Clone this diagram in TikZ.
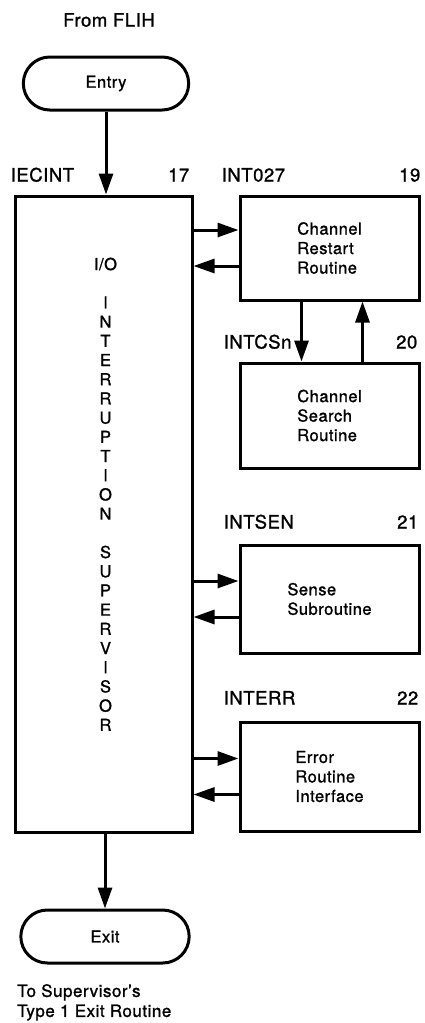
\documentclass[tikz,border=0pt]{standalone}
\usepackage{fontspec}
\setmainfont{TeX Gyre Heros}[LetterSpace=3,FakeBold=1.2]
\usepackage{tikz}
\usetikzlibrary{
arrows.meta,
positioning,
shapes.misc,
calc
}

\begin{document}
\begin{tikzpicture}[
x=1pt, y=-1pt,
box/.style={
draw,
line width=3pt,
minimum width=179pt,
align=left,
font=\fontsize{16.5}{19.5}\selectfont
},
term/.style={
draw,
rounded rectangle,
line width=3pt,
minimum width=172pt,
minimum height=53pt,
font=\fontsize{16.5}{19.5}\selectfont
},
lbl/.style={inner sep=0pt,font=\fontsize{18.5}{20}\selectfont},
arrow/.style={-{Triangle[length=21pt,width=14pt]},line width=3pt}
]
\useasboundingbox (0,0) rectangle (424,1023);

\node[lbl] (flih) at (109,20) {From FLIH};
\node[term] (entry) at (106,83.5) {Entry};

% supervisor and the routines it calls
\node[box,minimum width=177pt,minimum height=636pt] (main) at (103.5,514) {};
\node[inner sep=0pt,align=center,anchor=north,font=\fontsize{16.5}{19.2}\selectfont]
  (iosup) at ([xshift=2pt,yshift=-63pt]main.north)
  {I/O\\[19.2pt]I\\N\\T\\E\\R\\R\\U\\P\\T\\I\\O\\N\\[19.2pt]S\\U\\P\\E\\R\\V\\I\\S\\O\\R};

\node[box,minimum height=104pt] (restart) at (329.5,248) {Channel\\Restart\\Routine};
\node[box,minimum height=105pt] (search) at (329.5,415.5) {Channel\\Search\\Routine};
\node[box,minimum height=108pt] (sense) at (329.5,599) {Sense\\Subroutine};
\node[box,minimum height=109pt] (error) at (329.5,776.5) {Error\\Routine\\Interface};

\node[term,minimum width=175pt] (exit) at (105,936.5) {Exit};
\node[lbl,anchor=north west,align=left,font=\fontsize{17}{20}\selectfont] (tosup) at (17,984) {To Supervisor's\\Type 1 Exit Routine};

% module names and numbers
\node[lbl,anchor=base west] (iecint) at ([xshift=-3pt,yshift=13pt]main.north west) {IECINT};
\node[lbl,anchor=base east] (n17) at ([xshift=-4pt,yshift=13pt]main.north east) {17};
\node[lbl,anchor=base west] (int027) at ([xshift=-17pt,yshift=13pt]restart.north west) {INT027};
\node[lbl,anchor=base east] (n19) at ([yshift=13pt]restart.north east) {19};
\node[lbl,anchor=base west] (intcsn) at ([xshift=-15pt,yshift=13pt]search.north west) {INTCSn};
\node[lbl,anchor=base east] (n20) at ([xshift=-3pt,yshift=13pt]search.north east) {20};
\node[lbl,anchor=base west] (intsen) at ([xshift=-15pt,yshift=15pt]sense.north west) {INTSEN};
\node[lbl,anchor=base east] (n21) at ([xshift=-2pt,yshift=15pt]sense.north east) {21};
\node[lbl,anchor=base west] (interr) at ([xshift=-15pt,yshift=16pt]error.north west) {INTERR};
\node[lbl,anchor=base east] (n22) at ([xshift=-2pt,yshift=16pt]error.north east) {22};

\draw[arrow] (entry.south) -- (entry.south |- main.north);
\draw[arrow] (exit.north |- main.south) -- (exit.north);

\foreach \b in {restart,sense,error}{
  \draw[arrow] ([yshift=18pt]\b.west -| main.east) -- ([yshift=18pt]\b.west);
  \draw[arrow] ([yshift=-18pt]\b.west) -- ([yshift=-18pt]\b.west -| main.east);
}

\draw[arrow] ([xshift=-28pt]restart.south) -- ([xshift=-28pt]restart.south |- search.north);
\draw[arrow] ([xshift=33pt]search.north) -- ([xshift=33pt]search.north |- restart.south);

\end{tikzpicture}
\end{document}
